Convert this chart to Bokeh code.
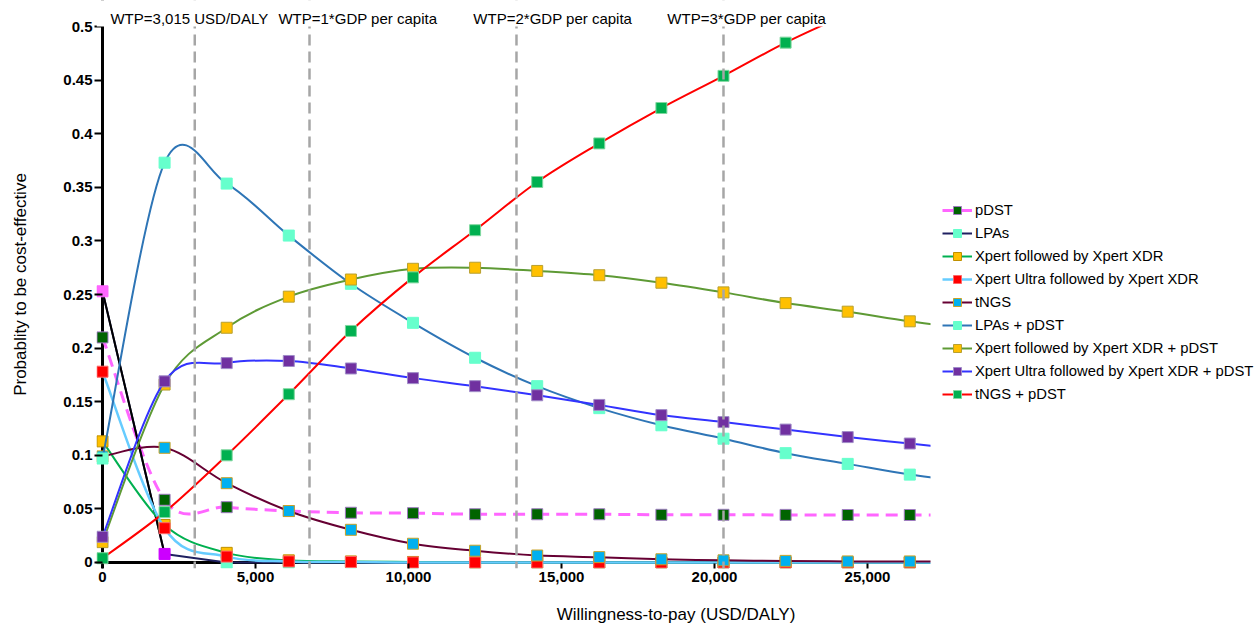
from bokeh.plotting import figure
from bokeh.models import (Span, Label, Legend, LegendItem, FixedTicker,
                          NumeralTickFormatter, Range1d, ColumnDataSource,
                          BoxAnnotation)
from bokeh.embed import file_html
from bokeh.resources import INLINE

FONT = "Liberation Sans"

# ---------------- data ----------------
wtp = [0, 2029, 4059, 6088, 8118, 10147, 12176, 14206, 16235, 18265, 20294,
       22324, 24353, 26382, 28412]

pdst = [0.210, 0.0585, 0.0516, 0.048, 0.0464, 0.046, 0.045, 0.045, 0.045,
        0.0445, 0.0445, 0.0444, 0.0443, 0.0443, 0.0442]
lpas = [0.253, 0.008, 0.0, 0.0, 0.0, 0.0, 0.0, 0.0, 0.0, 0.0, 0.0, 0.0, 0.0,
        0.0, 0.0]
xpert_xdr = [0.113, 0.035, 0.009, 0.002, 0.001, 0.0005, 0.0, 0.0, 0.0, 0.0,
             0.0, 0.0, 0.0, 0.0, 0.0]
ultra_xdr = [0.178, 0.032, 0.0055, 0.001, 0.0005, 0.0, 0.0, 0.0, 0.0, 0.0,
             0.0, 0.0, 0.0, 0.0, 0.0]
tngs = [0.099, 0.107, 0.074, 0.048, 0.0305, 0.0175, 0.011, 0.0065, 0.005,
        0.003, 0.002, 0.0015, 0.001, 0.001, 0.0008]
lpas_pdst = [0.097, 0.373, 0.3535, 0.305, 0.260, 0.2236, 0.191, 0.1645, 0.144,
             0.128, 0.1155, 0.102, 0.092, 0.082, 0.0745]
xpert_xdr_pdst = [0.019, 0.166, 0.219, 0.248, 0.264, 0.274, 0.275, 0.272,
                  0.268, 0.261, 0.252, 0.242, 0.234, 0.225, 0.2175]
ultra_xdr_pdst = [0.024, 0.169, 0.186, 0.188, 0.181, 0.172, 0.1645, 0.156,
                  0.147, 0.1375, 0.131, 0.124, 0.117, 0.111, 0.105]
tngs_pdst = [0.004, 0.047, 0.100, 0.157, 0.216, 0.266, 0.310, 0.355, 0.391,
             0.424, 0.454, 0.485, 0.512, 0.540, 0.566]

series_names = ["pDST", "LPAs", "Xpert followed by Xpert XDR",
                "Xpert Ultra followed by Xpert XDR", "tNGS", "LPAs + pDST",
                "Xpert followed by Xpert XDR + pDST",
                "Xpert Ultra followed by Xpert XDR + pDST", "tNGS + pDST"]
series_values = [pdst, lpas, xpert_xdr, ultra_xdr, tngs, lpas_pdst,
                 xpert_xdr_pdst, ultra_xdr_pdst, tngs_pdst]

wtp_lines = [3015, 6765, 13529, 20294]
wtp_texts = ["WTP=3,015 USD/DALY", "WTP=1*GDP per capita",
             "WTP=2*GDP per capita", "WTP=3*GDP per capita"]
wtp_text_x = [260, 5750, 12120, 18460]

y_ticks = [0, 0.05, 0.1, 0.15, 0.2, 0.25, 0.3, 0.35, 0.4, 0.45, 0.5]
x_ticks = [0, 5000, 10000, 15000, 20000, 25000]
X_MAX = 27060
Y_MAX = 0.5

# ---------------- styles ----------------
line_colors = ["#FF66FF", "#1F2060", "#00B050", "#66CCFF", "#660033",
               "#2E75B6", "#5E9A35", "#3333FF", "#FF0000"]
line_dashes = ["12 7"] + ["solid"] * 8
line_widths = [3, 2, 2, 2.5, 2, 2, 2, 2, 2]
marker_fill = ["#006400", "#66FFCC", "#FFC000", "#FF0000", "#00B0F0",
               "#66FFCC", "#FFC000", "#7030A0", "#00B050"]
marker_line = ["#9E7BC0", "#66FFCC", "#BF9000", "#FF6666", "#C9A227",
               "#66FFCC", "#B8A030", "#A08CC8", "#80D8A0"]


def smooth(xv, yv):
    """Excel-like smoothed line: cubic Bezier segments (Catmull-Rom)."""
    n = len(xv)
    d = dict(x0=[], y0=[], x1=[], y1=[], cx0=[], cy0=[], cx1=[], cy1=[])
    for i in range(n - 1):
        # skip segments lying completely outside the axes
        if (yv[i] > Y_MAX and yv[i + 1] > Y_MAX) or xv[i] > X_MAX:
            continue
        a = max(i - 1, 0)
        b = min(i + 2, n - 1)
        d["x0"].append(xv[i]); d["y0"].append(yv[i])
        d["x1"].append(xv[i + 1]); d["y1"].append(yv[i + 1])
        d["cx0"].append(xv[i] + (xv[i + 1] - xv[a]) / 6.0)
        d["cy0"].append(yv[i] + (yv[i + 1] - yv[a]) / 6.0)
        d["cx1"].append(xv[i + 1] - (xv[b] - xv[i]) / 6.0)
        d["cy1"].append(yv[i + 1] - (yv[b] - yv[i]) / 6.0)
    return d


p = figure(width=1255, height=628, output_backend="svg", toolbar_location=None,
           x_range=Range1d(-196, 37680), y_range=Range1d(-0.0056, 0.5243),
           min_border_left=96, min_border_right=0, min_border_top=0,
           min_border_bottom=60)
p.outline_line_color = None
p.grid.visible = False
p.background_fill_color = "white"
p.border_fill_color = "white"

# axis lines at zero
p.add_layout(Span(location=0, dimension="height", line_color="black",
                  line_width=3, level="underlay"))
p.add_layout(Span(location=0, dimension="width", line_color="black",
                  line_width=3, level="underlay"))

items = []
for k, (name, vals) in enumerate(zip(series_names, series_values)):
    mfill = [marker_fill[k]] * len(wtp)
    mline = [marker_line[k]] * len(wtp)
    if name == "LPAs":
        mfill[0] = "#FF66FF"; mline[0] = "#FF66FF"
        mfill[1] = "#CC00FF"; mline[1] = "#CC00FF"
        br = p.line(wtp, vals, line_color=line_colors[k],
                    line_width=line_widths[k])
        p.line(wtp[:2], vals[:2], line_color="#000000", line_width=2)
    else:
        src = ColumnDataSource(smooth(wtp, vals))
        br = p.bezier(x0="x0", y0="y0", x1="x1", y1="y1", cx0="cx0",
                      cy0="cy0", cx1="cx1", cy1="cy1", source=src,
                      line_color=line_colors[k], line_width=line_widths[k],
                      line_dash=line_dashes[k])
    keep = [i for i in range(len(wtp)) if wtp[i] <= X_MAX and vals[i] <= Y_MAX]
    msrc = ColumnDataSource(dict(x=[wtp[i] for i in keep],
                                 y=[vals[i] for i in keep],
                                 f=[mfill[i] for i in keep],
                                 l=[mline[i] for i in keep]))
    sr = p.scatter(x="x", y="y", source=msrc, marker="square", size=11,
                   fill_color="f", line_color="l", line_width=1)
    items.append(LegendItem(label=name, renderers=[br, sr], index=2))

# WTP reference lines
for xl in wtp_lines:
    p.add_layout(Span(location=xl, dimension="height", line_color="#A6A6A6",
                      line_width=2.5, line_dash="11 6"))

# white masks outside the plotted axes area
p.add_layout(BoxAnnotation(bottom=Y_MAX, fill_color="white", fill_alpha=1,
                           line_color=None))
p.add_layout(BoxAnnotation(left=X_MAX, fill_color="white", fill_alpha=1,
                           line_color=None))

for xt, t in zip(wtp_text_x, wtp_texts):
    p.add_layout(Label(x=xt, y=Y_MAX, text=t, y_offset=8, text_baseline="middle",
                       text_align="left", text_font=FONT,
                       text_font_size="15px", text_color="black"))

# axes
p.xaxis.ticker = FixedTicker(ticks=x_ticks)
p.xaxis.formatter = NumeralTickFormatter(format="0,0")
p.yaxis.ticker = FixedTicker(ticks=y_ticks)
p.yaxis.formatter = NumeralTickFormatter(format="0.[00]")
for ax in (p.xaxis, p.yaxis):
    ax.axis_line_color = None
    ax.minor_tick_line_color = None
    ax.major_tick_line_color = "black"
    ax.major_tick_line_width = 2
    ax.major_label_text_font = FONT
    ax.major_label_text_font_style = "bold"
    ax.major_label_text_font_size = "15px"
    ax.major_label_text_color = "black"
    ax.axis_label_text_font = FONT
    ax.axis_label_text_font_style = "normal"
    ax.axis_label_text_font_size = "17px"
    ax.axis_label_text_color = "black"
p.xaxis.major_tick_in = 5
p.xaxis.major_tick_out = 0
p.xaxis.major_label_standoff = 3
p.xaxis.axis_label = "Willingness-to-pay (USD/DALY)"
p.xaxis.axis_label_standoff = 20
p.yaxis.major_tick_in = 6
p.yaxis.major_tick_out = 2
p.yaxis.major_label_standoff = 2
p.yaxis.axis_label = "Probablity to be cost-effective"
p.yaxis.axis_label_standoff = 30

legend = Legend(items=items, location=(846, 164), padding=0, margin=0,
                spacing=3, label_height=20, glyph_height=20, glyph_width=30,
                label_standoff=3, label_text_font=FONT,
                label_text_font_size="14.8px", label_text_color="black",
                border_line_color=None, background_fill_alpha=0)
p.add_layout(legend)

open("out.html", "w").write(file_html(p, INLINE))
